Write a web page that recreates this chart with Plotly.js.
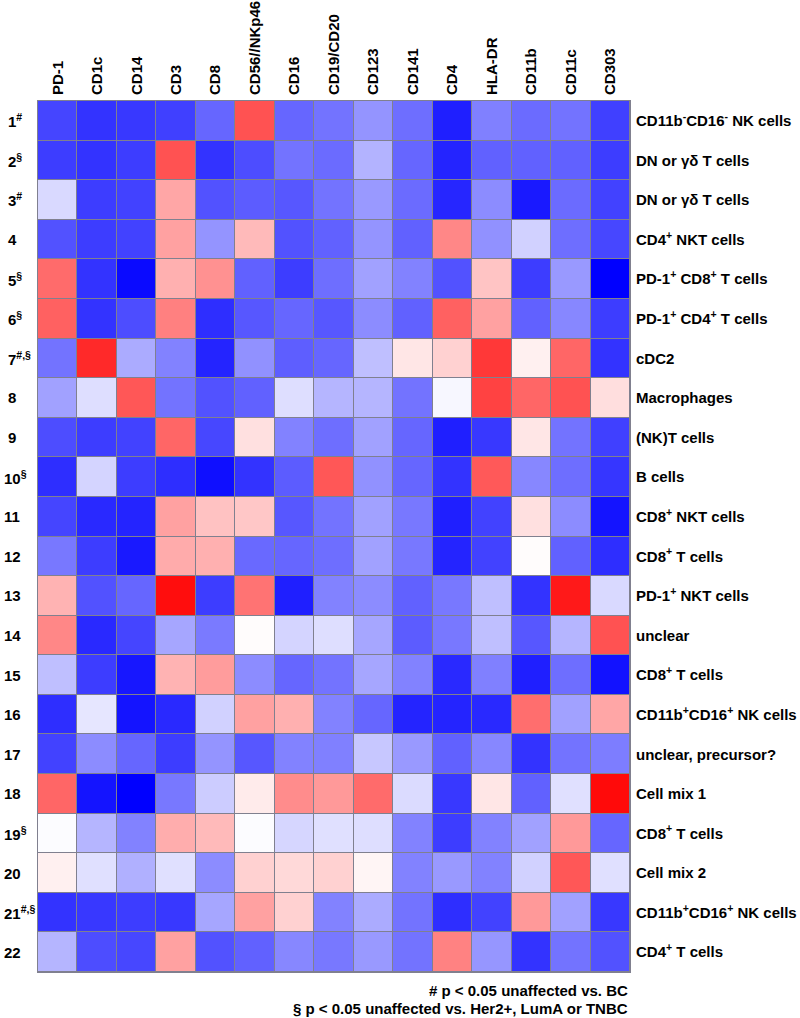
<!DOCTYPE html>
<html>
<head>
<meta charset="utf-8">
<script src="https://cdn.plot.ly/plotly-3.0.1.min.js"></script>
<style>html,body{margin:0;padding:0;background:#fff;}</style>
</head>
<body>
<div id="chart" style="width:800px;height:1018px;"></div>
<script>
// Markers (columns)
const markers = ["PD-1","CD1c","CD14","CD3","CD8","CD56//NKp46","CD16","CD19/CD20","CD123","CD141","CD4","HLA-DR","CD11b","CD11c","CD303"];

// Cluster numbers (left labels) and their significance marks
const clusterNumbers = ["1","2","3","4","5","6","7","8","9","10","11","12","13","14","15","16","17","18","19","20","21","22"];
const clusterMarks = ["#","§","#","","§","§","#,§","","","§","","","","","","","","","§","","#,§",""];

// Cell type (right labels)
const cellTypes = ["CD11b<sup>-</sup>CD16<sup>-</sup> NK cells","DN or γδ T cells","DN or γδ T cells","CD4<sup>+</sup> NKT cells","PD-1<sup>+</sup> CD8<sup>+</sup> T cells","PD-1<sup>+</sup> CD4<sup>+</sup> T cells","cDC2","Macrophages","(NK)T cells","B cells","CD8<sup>+</sup> NKT cells","CD8<sup>+</sup> T cells","PD-1<sup>+</sup> NKT cells","unclear","CD8<sup>+</sup> T cells","CD11b<sup>+</sup>CD16<sup>+</sup> NK cells","unclear, precursor?","Cell mix 1","CD8<sup>+</sup> T cells","Cell mix 2","CD11b<sup>+</sup>CD16<sup>+</sup> NK cells","CD4<sup>+</sup> T cells"];

// Relative expression (-1 = blue, 0 = white, 1 = red), one row per cluster
const row1  = [-0.73,-0.80,-0.78,-0.75,-0.60, 0.68,-0.60,-0.55,-0.42,-0.57,-0.88,-0.50,-0.58,-0.55,-0.75];
const row2  = [-0.76,-0.80,-0.76, 0.68,-0.80,-0.70,-0.55,-0.58,-0.30,-0.60,-0.86,-0.62,-0.62,-0.62,-0.76];
const row3  = [-0.15,-0.76,-0.74, 0.35,-0.68,-0.64,-0.66,-0.55,-0.40,-0.58,-0.85,-0.45,-0.90,-0.58,-0.74];
const row4  = [-0.68,-0.76,-0.74, 0.37,-0.42, 0.27,-0.68,-0.62,-0.42,-0.62, 0.47,-0.43,-0.18,-0.57,-0.72];
const row5  = [ 0.58,-0.80,-0.96, 0.31, 0.43,-0.62,-0.76,-0.57,-0.37,-0.49,-0.68, 0.23,-0.76,-0.40,-1.00];
const row6  = [ 0.62,-0.80,-0.70, 0.50,-0.82,-0.66,-0.60,-0.66,-0.45,-0.62, 0.62, 0.37,-0.62,-0.47,-0.76];
const row7  = [-0.55, 0.84,-0.33,-0.49,-0.86,-0.43,-0.63,-0.60,-0.25, 0.10, 0.18, 0.78, 0.06, 0.60,-0.80];
const row8  = [-0.37,-0.13, 0.66,-0.55,-0.68,-0.62,-0.13,-0.29,-0.29,-0.55,-0.03, 0.74, 0.60, 0.68, 0.13];
const row9  = [-0.70,-0.76,-0.74, 0.60,-0.72, 0.12,-0.49,-0.57,-0.37,-0.60,-0.88,-0.78, 0.10,-0.55,-0.75];
const row10 = [-0.82,-0.17,-0.76,-0.82,-0.94,-0.80,-0.64, 0.66,-0.43,-0.60,-0.80, 0.65,-0.47,-0.57,-0.79];
const row11 = [-0.73,-0.84,-0.86, 0.37, 0.24, 0.22,-0.66,-0.55,-0.37,-0.53,-0.88,-0.74, 0.12,-0.45,-0.92];
const row12 = [-0.53,-0.76,-0.90, 0.33, 0.31,-0.59,-0.60,-0.57,-0.37,-0.53,-0.86,-0.74, 0.01,-0.62,-0.82];
const row13 = [ 0.30,-0.68,-0.60, 0.95,-0.76, 0.55,-0.88,-0.49,-0.45,-0.62,-0.53,-0.25,-0.80, 0.90,-0.15];
const row14 = [ 0.47,-0.84,-0.73,-0.35,-0.52, 0.01,-0.17,-0.13,-0.35,-0.64,-0.53,-0.25,-0.66,-0.29, 0.68];
const row15 = [-0.25,-0.76,-0.91, 0.30, 0.39,-0.45,-0.60,-0.55,-0.35,-0.49,-0.84,-0.50,-0.88,-0.57,-0.93];
const row16 = [-0.82,-0.10,-0.92,-0.84,-0.18, 0.37, 0.31,-0.49,-0.60,-0.86,-0.86,-0.84, 0.57,-0.37, 0.35];
const row17 = [-0.74,-0.45,-0.60,-0.76,-0.42,-0.66,-0.49,-0.50,-0.22,-0.40,-0.62,-0.47,-0.80,-0.55,-0.51];
const row18 = [ 0.60,-0.92,-1.00,-0.53,-0.20, 0.08, 0.45, 0.40, 0.58,-0.14,-0.78, 0.10,-0.62,-0.12, 0.96];
const row19 = [-0.01,-0.29,-0.49, 0.32, 0.27,-0.01,-0.16,-0.12,-0.13,-0.49,-0.76,-0.49,-0.37, 0.40,-0.60];
const row20 = [ 0.06,-0.12,-0.31,-0.12,-0.45, 0.18, 0.15, 0.18, 0.04,-0.49,-0.40,-0.49,-0.18, 0.66,-0.12];
const row21 = [-0.80,-0.78,-0.76,-0.78,-0.35, 0.37, 0.18,-0.49,-0.33,-0.55,-0.82,-0.74, 0.40,-0.37,-0.78];
const row22 = [-0.29,-0.70,-0.72, 0.37,-0.68,-0.62,-0.47,-0.53,-0.40,-0.55, 0.49,-0.41,-0.80,-0.55,-0.68];

const footnotes = ["# p < 0.05 unaffected vs. BC", "§ p < 0.05 unaffected vs. Her2+, LumA or TNBC"];

const z = [row1,row2,row3,row4,row5,row6,row7,row8,row9,row10,row11,row12,row13,row14,row15,row16,row17,row18,row19,row20,row21,row22];
const yIdx = clusterNumbers.map((_, i) => i);
const xIdx = markers.map((_, i) => i);

const FONT = "Liberation Sans, Arial, sans-serif";
const gridColor = "#80808f";
const plotLeft = 38, plotW = 592;

const trace = {
  type: "heatmap",
  z: z,
  x: xIdx,
  y: yIdx,
  zmin: -1, zmax: 1,
  colorscale: [[0, "rgb(0,0,255)"], [0.5, "rgb(255,255,255)"], [1, "rgb(255,0,0)"]],
  showscale: false,
  xgap: 1, ygap: 1,
  hoverinfo: "z"
};

// left labels: number centred at ~x=11px, superscript hanging to the right
const digitW = 8.34;
const annotations = clusterNumbers.map((n, i) => {
  const leftPx = 11 - n.length * digitW / 2 - 1;
  const mark = clusterMarks[i] ? "<sup>" + clusterMarks[i] + "</sup>" : "";
  return {
    text: "<b>" + n + mark + "</b>",
    xref: "paper", yref: "y",
    x: (leftPx - plotLeft) / plotW, y: i,
    xanchor: "left", yanchor: "middle",
    showarrow: false,
    font: {family: FONT, size: 15, color: "#000"}
  };
});
footnotes.forEach((t, i) => {
  annotations.push({
    text: "<b>" + t + "</b>",
    xref: "paper", yref: "paper",
    x: 1, y: (1018 - 46 - (990 + i * 18)) / (1018 - 101 - 46),
    xanchor: "right", yanchor: "middle",
    showarrow: false,
    font: {family: FONT, size: 15, color: "#000"}
  });
});

const layout = {
  width: 800, height: 1018,
  margin: {l: plotLeft, r: 800 - plotLeft - plotW, t: 101, b: 46, pad: 0},
  paper_bgcolor: "#ffffff",
  plot_bgcolor: gridColor,
  font: {family: FONT, size: 15, color: "#000"},
  xaxis: {
    side: "top",
    tickvals: xIdx,
    ticktext: markers.map(m => "<b>" + m + "</b>"),
    tickangle: -90,
    ticks: "",
    showgrid: false, zeroline: false,
    showline: true, mirror: true, linecolor: gridColor, linewidth: 1,
    range: [-0.5, markers.length - 0.5],
    ticklabelstandoff: 2,
    tickfont: {family: FONT, size: 15, color: "#000"},
    fixedrange: true
  },
  yaxis: {
    side: "right",
    tickvals: yIdx,
    ticktext: cellTypes.map(c => "<b>" + c + "</b>"),
    ticks: "",
    showgrid: false, zeroline: false,
    showline: true, mirror: true, linecolor: gridColor, linewidth: 1,
    range: [clusterNumbers.length - 0.5, -0.5],
    ticklabelstandoff: 2,
    tickfont: {family: FONT, size: 15, color: "#000"},
    fixedrange: true
  },
  annotations: annotations,
  showlegend: false
};

Plotly.newPlot("chart", [trace], layout, {displayModeBar: false, staticPlot: true});
</script>
</body>
</html>
